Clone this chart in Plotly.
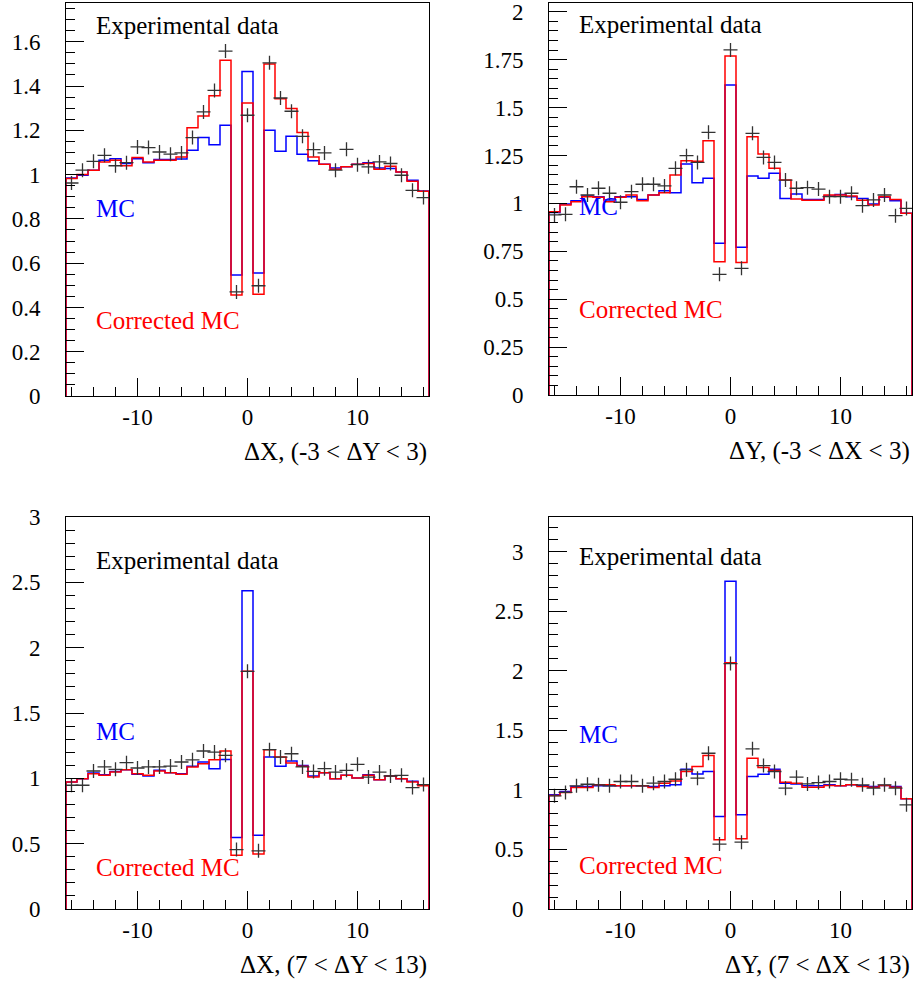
import numpy as np
import plotly.graph_objects as go

# ---------------- data ----------------
bins = list(range(-16, 17))  # bin centers, width 1
x_tickvals = [-10, 0, 10]
x_ticktext = ["-10", "0", "10"]

# Panel 1: dX, (-3 < dY < 3)
p1_mc = [0.985, 0.997, 1.02, 1.065, 1.072, 1.05, 1.072, 1.053, 1.068, 1.068, 1.07, 1.11, 1.167, 1.135, 1.223, 0.546, 1.466,
         0.556, 1.2, 1.105, 1.173, 1.092, 1.062, 1.047, 1.03, 1.035, 1.047, 1.054, 1.03, 1.027, 1.012, 0.974, 0.926]
p1_cor = [0.982, 1.0, 1.02, 1.057, 1.065, 1.04, 1.077, 1.057, 1.065, 1.065, 1.08, 1.212, 1.265, 1.356, 1.516, 0.456, 1.323,
          0.46, 1.50, 1.343, 1.298, 1.19, 1.08, 1.047, 1.024, 1.035, 1.047, 1.05, 1.024, 1.038, 1.012, 0.97, 0.925]
p1_data = [0.962, 1.02, 1.06, 1.087, 1.04, 1.054, 1.125, 1.122, 1.102, 1.092, 1.098, 1.167, 1.283, 1.38, 1.558, 0.47, 1.268,
           0.498, 1.505, 1.346, 1.286, 1.173, 1.113, 1.098, 1.02, 1.114, 1.045, 1.035, 1.057, 1.05, 0.997, 0.929, 0.896]

# Panel 2: dY, (-3 < dX < 3)
p2_mc = [0.953, 0.997, 1.014, 1.039, 1.035, 1.018, 1.035, 1.035, 1.021, 1.044, 1.066, 1.056, 1.206, 1.108, 1.131, 0.792, 1.618,
         0.771, 1.143, 1.131, 1.157, 1.026, 1.049, 1.021, 1.021, 1.039, 1.047, 1.035, 1.026, 0.997, 1.032, 1.014, 0.948]
p2_cor = [0.957, 0.992, 1.009, 1.035, 1.032, 1.009, 1.032, 1.044, 1.014, 1.044, 1.056, 1.148, 1.223, 1.22, 1.327, 0.696, 1.769,
          0.691, 1.348, 1.258, 1.183, 1.122, 1.023, 1.017, 1.017, 1.044, 1.044, 1.039, 1.017, 0.992, 1.035, 1.021, 0.948]
p2_data = [0.94, 0.943, 1.087, 1.044, 1.079, 1.053, 1.006, 1.061, 1.1, 1.1, 1.091, 1.183, 1.249, 1.214, 1.371, 0.63, 1.801,
           0.661, 1.366, 1.24, 1.214, 1.122, 1.079, 1.082, 1.075, 1.035, 1.035, 1.053, 0.988, 1.018, 1.044, 0.936, 0.974]

# Panel 3: dX, (7 < dY < 13)
p3_mc = [0.972, 0.997, 1.041, 1.028, 1.053, 1.066, 1.031, 1.018, 1.061, 1.043, 1.036, 1.092, 1.125, 1.074, 1.145, 0.547, 2.435,
         0.565, 1.163, 1.092, 1.132, 1.099, 1.018, 1.043, 0.997, 1.023, 1.003, 1.028, 0.99, 1.018, 0.997, 0.977, 0.947]
p3_cor = [0.972, 0.997, 1.036, 1.023, 1.048, 1.066, 1.036, 1.023, 1.056, 1.043, 1.031, 1.087, 1.112, 1.142, 1.209, 0.412, 1.819,
          0.42, 1.219, 1.163, 1.117, 1.092, 1.01, 1.043, 0.997, 1.023, 1.003, 1.023, 0.99, 1.018, 0.997, 0.972, 0.944]
p3_data = [0.947, 0.947, 1.056, 1.087, 1.069, 1.12, 1.079, 1.087, 1.087, 1.094, 1.125, 1.142, 1.209, 1.201, 1.176, 0.455, 1.819,
           0.445, 1.219, 1.163, 1.188, 1.087, 1.053, 1.074, 1.048, 1.061, 1.107, 1.01, 1.048, 1.018, 1.023, 0.929, 0.952]

# Panel 4: dY, (7 < dX < 13)
p4_mc = [0.958, 0.986, 1.028, 1.028, 1.034, 1.034, 1.034, 1.034, 1.034, 1.028, 1.034, 1.042, 1.173, 1.134, 1.154, 0.777, 2.751,
         0.791, 1.112, 1.131, 1.173, 1.056, 1.05, 1.034, 1.034, 1.042, 1.034, 1.042, 1.034, 1.028, 1.036, 1.028, 0.925]
p4_cor = [0.953, 0.978, 1.02, 1.02, 1.042, 1.042, 1.034, 1.034, 1.034, 1.02, 1.056, 1.075, 1.154, 1.196, 1.288, 0.581, 2.067,
          0.589, 1.265, 1.187, 1.162, 1.064, 1.056, 1.022, 1.022, 1.036, 1.034, 1.042, 1.028, 1.022, 1.036, 1.022, 0.925]
p4_data = [0.95, 0.978, 1.034, 1.047, 1.042, 1.034, 1.07, 1.07, 1.034, 1.056, 1.07, 1.089, 1.168, 1.098, 1.307, 0.545, 2.06,
           0.561, 1.344, 1.204, 1.154, 1.014, 1.106, 1.05, 1.061, 1.07, 1.089, 1.084, 1.042, 1.014, 1.042, 1.014, 0.874]

titles = ["\u0394X, (-3 < \u0394Y < 3)", "\u0394Y, (-3 < \u0394X < 3)",
          "\u0394X, (7 < \u0394Y < 13)", "\u0394Y, (7 < \u0394X < 13)"]
yranges = [[0, 1.775], [0, 2.046], [0, 3.0], [0, 3.29]]
ytickvals = [[0, 0.2, 0.4, 0.6, 0.8, 1, 1.2, 1.4, 1.6],
             [0, 0.25, 0.5, 0.75, 1, 1.25, 1.5, 1.75, 2],
             [0, 0.5, 1, 1.5, 2, 2.5, 3],
             [0, 0.5, 1, 1.5, 2, 2.5, 3]]
yticktext = [["0", "0.2", "0.4", "0.6", "0.8", "1", "1.2", "1.4", "1.6"],
             ["0", "0.25", "0.5", "0.75", "1", "1.25", "1.5", "1.75", "2"],
             ["0", "0.5", "1", "1.5", "2", "2.5", "3"],
             ["0", "0.5", "1", "1.5", "2", "2.5", "3"]]
yminor = [0.05, 0.05, 0.1, 0.1]
label_pos = [  # (exp, mc, corrected) y positions in axis-domain coords
    (0.944, 0.478, 0.193),
    (0.944, 0.482, 0.219),
    (0.890, 0.452, 0.107),
    (0.898, 0.444, 0.112),
]

# ---------------- layout geometry ----------------
W, H = 916, 988
xdom = [[66 / W, 429 / W], [549 / W, 912 / W], [66 / W, 429 / W], [549 / W, 912 / W]]
ydom = [[1 - 396 / H, 1 - 3 / H], [1 - 395 / H, 1 - 3 / H],
        [1 - 909 / H, 1 - 517 / H], [1 - 909 / H, 1 - 517 / H]]

FONT = '"Liberation Serif", "Times New Roman", Times, "DejaVu Serif", "Noto Serif", serif'

fig = go.Figure()


def step_xy(centers, vals):
    c = np.array(centers, dtype=float)
    v = np.array(vals, dtype=float)
    edges_l = c - 0.5
    xs = np.concatenate([[edges_l[0]], edges_l, [c[-1] + 0.5, c[-1] + 0.5]])
    ys = np.concatenate([[0.0], v, [v[-1], 0.0]])
    return xs, ys


panels = [(p1_mc, p1_cor, p1_data), (p2_mc, p2_cor, p2_data),
          (p3_mc, p3_cor, p3_data), (p4_mc, p4_cor, p4_data)]

annotations = []
for i, (mc, cor, dat) in enumerate(panels):
    n = i + 1
    xa = "x" if n == 1 else f"x{n}"
    ya = "y" if n == 1 else f"y{n}"
    xs, ys = step_xy(bins, mc)
    fig.add_trace(go.Scatter(x=xs, y=ys, mode="lines", line=dict(color="#0000ff", width=1.5, shape="hv"),
                             xaxis=xa, yaxis=ya, showlegend=False, hoverinfo="skip"))
    xs, ys = step_xy(bins, cor)
    fig.add_trace(go.Scatter(x=xs, y=ys, mode="lines", line=dict(color="#ff0000", width=1.5, shape="hv"),
                             xaxis=xa, yaxis=ya, showlegend=False, hoverinfo="skip"))
    fig.add_trace(go.Scatter(x=bins, y=dat, mode="markers",
                             marker=dict(symbol="cross-thin", size=10, color="#333333",
                                         line=dict(color="#333333", width=1.3)),
                             xaxis=xa, yaxis=ya, showlegend=False))

    axkey_x = "xaxis" if n == 1 else f"xaxis{n}"
    axkey_y = "yaxis" if n == 1 else f"yaxis{n}"
    fig.update_layout(**{
        axkey_x: dict(domain=xdom[i], range=[-16.5, 16.5], anchor=ya, showgrid=False, zeroline=False,
                      automargin=False, ticklabeloverflow="allow",
                      showline=True, linecolor="black", linewidth=1, mirror=True,
                      ticks="inside", ticklen=18, tickcolor="black", tickwidth=1,
                      tickmode="array", tickvals=x_tickvals, ticktext=x_ticktext,
                      minor=dict(ticks="inside", ticklen=9, tickcolor="black", tickwidth=1, dtick=2, tick0=0,
                                 showgrid=False),
                      tickfont=dict(family=FONT, size=23, color="black"), ticklabelstandoff=0),
        axkey_y: dict(domain=ydom[i], range=yranges[i], anchor=xa, showgrid=False, zeroline=False,
                      automargin=False, ticklabeloverflow="allow",
                      showline=True, linecolor="black", linewidth=1, mirror=True,
                      ticks="inside", ticklen=18, tickcolor="black", tickwidth=1,
                      tickmode="array", tickvals=ytickvals[i], ticktext=yticktext[i],
                      minor=dict(ticks="inside", ticklen=9, tickcolor="black", tickwidth=1, dtick=yminor[i], tick0=0,
                                 showgrid=False),
                      tickfont=dict(family=FONT, size=23, color="black"), ticklabelstandoff=20),
    })
    ey, my, cy = label_pos[i]
    xr = f"{xa} domain"
    yr = f"{ya} domain"
    for txt, yy, col in [("Experimental data", ey, "black"), ("MC", my, "#0000ff"), ("Corrected MC", cy, "#ff0000")]:
        annotations.append(dict(text=txt, x=0.077, y=yy, xref=xr, yref=yr, xanchor="left", yanchor="middle",
                                showarrow=False, font=dict(family=FONT, size=25, color=col)))
    annotations.append(dict(text=titles[i], x=1.0, y=-0.1425, xref=xr, yref=yr, xanchor="right", yanchor="middle",
                            showarrow=False, font=dict(family=FONT, size=25, color="black")))

fig.update_layout(width=W, height=H, margin=dict(l=0, r=0, t=0, b=0, autoexpand=False),
                  font=dict(family=FONT),
                  paper_bgcolor="white", plot_bgcolor="white", annotations=annotations)

fig.write_html("out.html")
